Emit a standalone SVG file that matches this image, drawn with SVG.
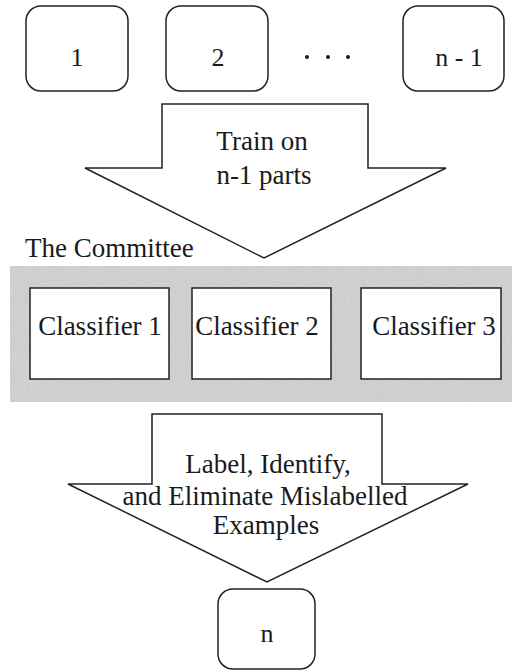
<svg xmlns="http://www.w3.org/2000/svg" width="512" height="671" viewBox="0 0 512 671">
  <style>
    text { font-family: "Liberation Serif", "Times New Roman", serif; font-size: 27px; fill: #1a1a1a; text-anchor: middle; }
    .num { font-size: 26px; }
    .part { fill: #fff; stroke: #222; stroke-width: 1.5; }
    .clf { fill: #fff; stroke: #222; stroke-width: 1.5; }
    .flow { fill: #fff; stroke: #222; stroke-width: 1.5; stroke-linejoin: miter; }
    .dot { fill: #1a1a1a; }
  </style>
  <defs>
    <!-- halftone-like grain for the committee band -->
    <filter id="grain" x="0" y="0" width="100%" height="100%">
      <feTurbulence type="fractalNoise" baseFrequency="0.9" numOctaves="2" seed="3"/>
      <feColorMatrix type="matrix" values="0.33 0.33 0.33 0 0  0.33 0.33 0.33 0 0  0.33 0.33 0.33 0 0  0 0 0 0 1"/>
    </filter>
  </defs>
  <rect width="512" height="671" fill="#fff"/>

  <!-- data partitions -->
  <g id="part-1">
    <rect class="part" x="26" y="6" width="102" height="85" rx="15"/>
    <text class="num" x="77" y="66">1</text>
  </g>
  <g id="part-2">
    <rect class="part" x="166" y="6" width="102" height="85" rx="15"/>
    <text class="num" x="218" y="66">2</text>
  </g>
  <g id="ellipsis">
    <circle class="dot" cx="307" cy="57" r="2"/>
    <circle class="dot" cx="328" cy="57" r="2"/>
    <circle class="dot" cx="348" cy="57" r="2"/>
  </g>
  <g id="part-n-1">
    <rect class="part" x="403" y="6" width="101" height="85" rx="15"/>
    <text class="num" x="459" y="66">n - 1</text>
  </g>

  <!-- committee band -->
  <g id="committee">
    <text x="25" y="257" style="text-anchor:start">The Committee</text>
    <rect x="10" y="266" width="502" height="136" fill="#d6d6d6"/>
    <rect x="10" y="266" width="502" height="136" filter="url(#grain)" opacity="0.22"/>
  </g>
  <g id="classifier-1">
    <rect class="clf" x="30" y="288" width="139" height="91"/>
    <text x="100" y="335">Classifier 1</text>
  </g>
  <g id="classifier-2">
    <rect class="clf" x="192" y="288" width="139" height="91"/>
    <text x="257" y="335">Classifier 2</text>
  </g>
  <g id="classifier-3">
    <rect class="clf" x="361" y="288" width="140" height="91"/>
    <text x="434" y="335">Classifier 3</text>
  </g>

  <!-- held-out partition -->
  <g id="part-n">
    <rect class="part" x="218" y="589" width="97" height="80" rx="15"/>
    <text class="num" x="267" y="642">n</text>
  </g>

  <!-- block arrows -->
  <g id="connectors">
    <g id="train-arrow">
      <path class="flow" d="M162,104 H368 V168 H446 L264,258 L85,168 H162 Z"/>
      <text x="262" y="150">Train on</text>
      <text x="264" y="184">n-1 parts</text>
    </g>
    <g id="filter-arrow">
      <path class="flow" d="M152,414 H382 V484 H468 L267,582 L68,484 H152 Z"/>
      <text x="268" y="473">Label, Identify,</text>
      <text x="265" y="505">and Eliminate Mislabelled</text>
      <text x="266" y="534">Examples</text>
    </g>
  </g>
</svg>
